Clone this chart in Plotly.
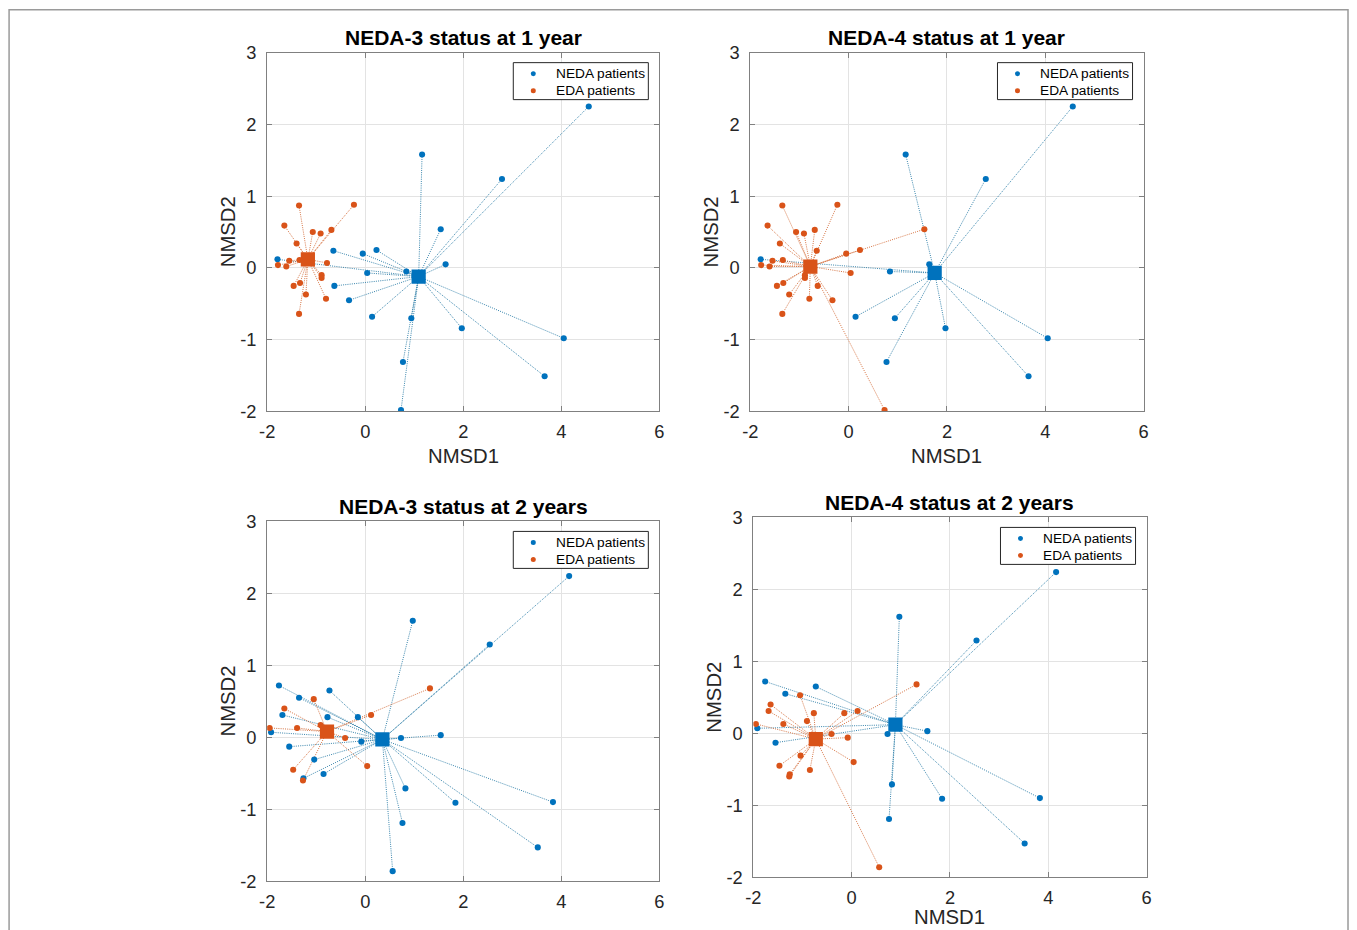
import plotly.graph_objects as go

# ---------------- data ----------------
# 1-year: NMSD coordinates of each patient
yr1_nmsd1 = [-1.35, -0.23, -1.65, -1.07, -0.91, -0.69, -1.40, -1.55, -1.34, -1.78,
             -1.61, -0.78, -0.89, -0.89, -1.46, -1.33, -1.21, -0.80, -1.35,
             -0.65, -0.05, 0.23, 1.54, 0.04, -0.63, -0.33, 0.73,
             -1.79, 0.84, 1.64, 0.14, 0.94, 1.97, 1.16, 2.79, 4.56, 4.05, 3.66, 0.77]
yr1_nmsd2 = [0.87, 0.88, 0.59, 0.50, 0.48, 0.53, 0.34, 0.10, 0.11, 0.04,
             0.02, 0.07, -0.10, -0.14, -0.25, -0.21, -0.37, -0.43, -0.64,
             0.24, 0.20, 0.25, 0.54, -0.07, -0.25, -0.45, -1.98,
             0.12, -0.05, 0.05, -0.68, -0.70, -0.84, 1.58, 1.24, 2.25, -0.98, -1.51, -1.31]
neda3_yr1 = ["EDA"] * 19 + ["NEDA"] * 8 + ["NEDA"] * 12
neda4_yr1 = ["EDA"] * 19 + ["EDA"] * 8 + ["NEDA"] * 12

# 2-year: NMSD coordinates of each patient
yr2_nmsd1 = [0.97, -1.76, -1.35, -0.73, -1.69, -0.77, -0.15, -1.92, -0.08, 0.73,
             1.54, -1.55, -1.04, -0.85, -1.26, 0.82, 1.84, 4.16, 2.54, 3.83,
             0.76, 3.52, 0.56,
             1.32, -1.05, -1.65, 0.12, -1.95, -1.39, -0.91, -0.41, 0.04, -1.47, -1.27]
yr2_nmsd2 = [1.62, 0.72, 0.55, 0.65, 0.31, 0.28, 0.28, 0.07, -0.06, -0.01,
             0.03, -0.13, -0.31, -0.51, -0.57, -0.71, -0.91, 2.24, 1.29, -0.90,
             -1.19, -1.53, -1.86,
             0.68, 0.53, 0.40, 0.31, 0.13, 0.13, 0.17, -0.01, -0.40, -0.45, -0.60]
neda3_yr2 = ["NEDA"] * 23 + ["EDA"] * 11
neda4_yr2 = ["NEDA", "NEDA", "NEDA", "NEDA", "EDA", "EDA", "EDA", "NEDA", "EDA", "NEDA",
             "NEDA", "NEDA", "EDA", "EDA", "EDA", "NEDA", "NEDA", "NEDA", "NEDA", "NEDA",
             "NEDA", "NEDA", "EDA"] + ["EDA"] * 11

# group centroids per panel (NEDA-3 1y, NEDA-4 1y, NEDA-3 2y, NEDA-4 2y)
neda_centroid_x = [1.09, 1.75, 0.35, 0.89]
neda_centroid_y = [-0.12, -0.07, -0.03, 0.12]
eda_centroid_x = [-1.17, -0.78, -0.78, -0.73]
eda_centroid_y = [0.12, 0.02, 0.08, -0.08]

panel_titles = ["NEDA-3 status at 1 year", "NEDA-4 status at 1 year",
                "NEDA-3 status at 2 years", "NEDA-4 status at 2 years"]
legend_labels = ["NEDA patients", "EDA patients"]
x_ticks = [-2, 0, 2, 4, 6]
x_tick_labels = ["-2", "0", "2", "4", "6"]
y_ticks = [-2, -1, 0, 1, 2, 3]
y_tick_labels = ["-2", "-1", "0", "1", "2", "3"]

# ---------------- layout geometry ----------------
# target positions are given in picture pixels; they are mapped to figure
# pixels taking the page margin and the capture scaling into account
OFF = 8
SX, SY = 0.990, 0.978
DY = 2.5
W, H = 1354, 934
FS = 1 / 0.985          # font / marker size compensation
# plot-area boxes in picture pixels: left, right, top, bottom
boxes = [(267, 659, 52, 411), (750, 1143, 52, 411),
         (267, 659, 521, 881), (753, 1146, 517, 877)]

BLUE = "#0072BD"
ORANGE = "#D95319"
BLUE_LINE = "#3a86ad"
ORANGE_LINE = "#d67545"
FONT = "Liberation Sans"
TXT = "#262626"

panels = [
    (yr1_nmsd1, yr1_nmsd2, neda3_yr1),
    (yr1_nmsd1, yr1_nmsd2, neda4_yr1),
    (yr2_nmsd1, yr2_nmsd2, neda3_yr2),
    (yr2_nmsd1, yr2_nmsd2, neda4_yr2),
]


def px(x):
    return (x / SX - OFF) / W


def py(y):
    return 1 - ((y - DY) / SY - OFF) / H


fig = go.Figure()
layout = dict(width=W, height=H, margin=dict(l=0, r=0, t=0, b=0),
              paper_bgcolor="white", plot_bgcolor="white", showlegend=False,
              font=dict(family=FONT, color=TXT))
annotations = []
shapes = []

for i, (xs, ys, status) in enumerate(panels):
    s = "" if i == 0 else str(i + 1)
    xa, ya = "x" + s, "y" + s
    cx = {"NEDA": neda_centroid_x[i], "EDA": eda_centroid_x[i]}
    cy = {"NEDA": neda_centroid_y[i], "EDA": eda_centroid_y[i]}

    # dotted connector lines
    for grp, col in (("NEDA", BLUE_LINE), ("EDA", ORANGE_LINE)):
        lx, ly = [], []
        for xv, yv, st in zip(xs, ys, status):
            if st == grp:
                lx += [xv, cx[grp], None]
                ly += [yv, cy[grp], None]
        fig.add_trace(go.Scatter(x=lx, y=ly, mode="lines", xaxis=xa, yaxis=ya,
                                 line=dict(color=col, width=1, dash="1px,1.2px"),
                                 hoverinfo="skip"))
    # patient points
    for grp, col, name in (("NEDA", BLUE, legend_labels[0]), ("EDA", ORANGE, legend_labels[1])):
        gx = [xv for xv, st in zip(xs, status) if st == grp]
        gy = [yv for yv, st in zip(ys, status) if st == grp]
        fig.add_trace(go.Scatter(x=gx, y=gy, mode="markers", xaxis=xa, yaxis=ya,
                                 marker=dict(color=col, size=6 * FS, line=dict(width=0)),
                                 name=name))
    # centroids
    for grp, col in (("NEDA", BLUE), ("EDA", ORANGE)):
        fig.add_trace(go.Scatter(x=[cx[grp]], y=[cy[grp]], mode="markers",
                                 xaxis=xa, yaxis=ya, name=grp + " centroid",
                                 marker=dict(color=col, size=14 * FS, symbol="square",
                                             line=dict(width=0))))

    l, r, t, b = boxes[i]
    axis_common = dict(showgrid=True, gridcolor="#e3e3e3", gridwidth=1,
                       zeroline=False, showline=True, linecolor="#808080",
                       linewidth=1, mirror="ticks", ticks="inside", ticklen=5,
                       tickcolor="#808080",
                       tickfont=dict(size=18 * FS, color=TXT, family=FONT))
    layout["xaxis" + s] = dict(axis_common, domain=[px(l), px(r)], range=[-2, 6],
                               tickvals=x_ticks, ticktext=x_tick_labels, anchor=ya,
                               ticklabelstandoff=4)
    layout["yaxis" + s] = dict(axis_common, domain=[py(b), py(t)], range=[-2, 3],
                               tickvals=y_ticks, ticktext=y_tick_labels, anchor=xa,
                               ticklabelstandoff=6)

    # legend box (drawn)
    lr = r - 11
    ll = lr - 135
    lt = t + 10
    lb = lt + 37
    shapes.append(dict(type="rect", xref="paper", yref="paper",
                       x0=px(ll), x1=px(lr), y0=py(lb), y1=py(lt),
                       fillcolor="white", line=dict(color=TXT, width=1), layer="above"))
    for k, (lab, col) in enumerate(zip(legend_labels, (BLUE, ORANGE))):
        yy = lt + 11 + 17 * k
        shapes.append(dict(type="circle", xref="paper", yref="paper",
                           x0=px(ll + 20 - 2.5), x1=px(ll + 20 + 2.5),
                           y0=py(yy + 2.5), y1=py(yy - 2.5),
                           fillcolor=col, line=dict(width=0), layer="above"))
        annotations.append(dict(text=lab, x=px(ll + 41), y=py(yy), xref="paper",
                                yref="paper", showarrow=False, xanchor="left",
                                yanchor="middle",
                                font=dict(size=13.5 * FS, family=FONT, color="black")))

    cxp = px((l + r) / 2)
    annotations.append(dict(text="<b>" + panel_titles[i] + "</b>", x=cxp,
                            y=py(t - 15), xref="paper", yref="paper",
                            showarrow=False,
                            font=dict(size=20.7 * FS, family=FONT, color="black"),
                            xanchor="center", yanchor="middle"))
    if i != 2:
        annotations.append(dict(text="NMSD1", x=cxp, y=py(min(b + 45, 917)),
                                xref="paper", yref="paper", showarrow=False,
                                font=dict(size=20 * FS, family=FONT, color=TXT),
                                xanchor="center", yanchor="middle"))
    annotations.append(dict(text="NMSD2", x=px(l - 39), y=py((t + b) / 2),
                            xref="paper", yref="paper", showarrow=False, textangle=-90,
                            font=dict(size=20 * FS, family=FONT, color=TXT),
                            xanchor="center", yanchor="middle"))

layout["annotations"] = annotations
shapes.append(dict(type="rect", xref="paper", yref="paper",
                   x0=px(9), x1=(W - 1) / W, y0=-0.2, y1=py(9),
                   line=dict(color="#9a9a9a", width=1.5)))
layout["shapes"] = shapes
fig.update_layout(**layout)
fig.write_html("out.html")
